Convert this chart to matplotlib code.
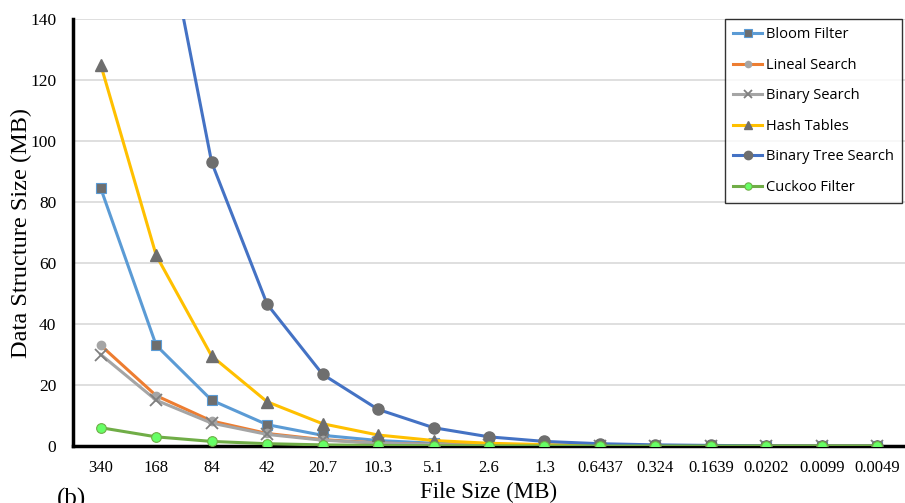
import matplotlib
matplotlib.use('Agg')
import matplotlib.pyplot as plt
import numpy as np

SERIF = 'Liberation Serif'
SANS = 'Open Sans'

file_sizes = ['340', '168', '84', '42', '20.7', '10.3', '5.1', '2.6', '1.3', '0.6437',
              '0.324', '0.1639', '0.0202', '0.0099', '0.0049']

bloom = [84.5, 33, 15, 7, 3.5, 1.8, 0.9, 0.45, 0.22, 0.11, 0.06, 0.03, 0.01, 0.005, 0.003]
lineal = [33, 16.5, 8.2, 4.1, 2.1, 1.0, 0.5, 0.25, 0.13, 0.06, 0.03, 0.015, 0.004, 0.002, 0.001]
binary = [30, 15, 7.5, 3.8, 1.9, 0.95, 0.47, 0.24, 0.12, 0.06, 0.03, 0.015, 0.004, 0.002, 0.001]
hash_tables = [125, 62.5, 29.5, 14.5, 7.3, 3.6, 1.8, 0.9, 0.45, 0.22, 0.11, 0.06, 0.01, 0.005, 0.003]
binary_tree = [372, 186, 93, 46.5, 23.5, 12, 6, 3, 1.5, 0.75, 0.37, 0.19, 0.05, 0.02, 0.01]
cuckoo = [6, 3, 1.5, 0.75, 0.37, 0.19, 0.09, 0.05, 0.02, 0.01, 0.005, 0.003, 0.001, 0.0005, 0.0002]

MARK = '#6E6E6E'

fig = plt.figure(figsize=(9.05, 5.03), dpi=100)
ax = fig.add_axes([73/905, 57/503, 832/905, 427/503])
x = np.arange(len(file_sizes))

ax.plot(x, bloom, color='#5B9BD5', lw=2.2, marker='s', ms=7, mfc=MARK, mec='#5B9BD5', mew=0.8,
        label='Bloom Filter', zorder=3)
ax.plot(x, lineal, color='#ED7D31', lw=2.2, marker='o', ms=6, mfc='#A5A5A5', mec='#A5A5A5',
        label='Lineal Search', zorder=3)
ax.plot(x, binary, color='#A5A5A5', lw=2.2, marker='x', ms=8, mec='#7F7F7F', mew=1.3,
        label='Binary Search', zorder=3)
ax.plot(x, hash_tables, color='#FFC000', lw=2.2, marker='^', ms=8, mfc=MARK, mec=MARK,
        label='Hash Tables', zorder=3)
ax.plot(x, binary_tree, color='#4472C4', lw=2.2, marker='o', ms=8, mfc=MARK, mec=MARK,
        label='Binary Tree Search', zorder=3)
ax.plot(x, cuckoo, color='#70AD47', lw=2.2, marker='o', ms=7, mfc='#66FF66', mec='#70AD47', mew=0.8,
        label='Cuckoo Filter', zorder=4)

ax.set_xlim(-0.5, len(file_sizes) - 0.5)
ax.set_ylim(0, 140)
ax.set_yticks(np.arange(0, 141, 20))
ax.set_xticks(x)
ax.set_xticklabels(file_sizes, fontsize=12, family=SERIF)
for lbl in ax.get_yticklabels():
    lbl.set_fontsize(12.5)
    lbl.set_family(SERIF)
ax.tick_params(length=0, pad=10)
ax.tick_params(axis='y', pad=12)

ax.grid(axis='y', color='#D9D9D9', lw=1.2)
ax.set_axisbelow(True)
for s in ['top', 'right']:
    ax.spines[s].set_visible(False)
ax.spines['left'].set_linewidth(2.5)
ax.spines['bottom'].set_linewidth(2.5)
ax.spines['bottom'].set_zorder(2)

ax.set_ylabel('Data Structure Size (MB)', fontsize=17.5, family=SERIF)
ax.yaxis.set_label_coords(-41/832, 0.5)
ax.set_xlabel('File Size (MB)', fontsize=16.5, family=SERIF, labelpad=4)

leg = ax.legend(loc='upper right', bbox_to_anchor=(1.0 + 1/832, 1.0 + 4/427),
                prop={'family': SANS, 'size': 10.5}, frameon=True, fancybox=False,
                edgecolor='black', handlelength=2.0, labelspacing=1.06, handletextpad=0.25,
                borderpad=0.55, markerscale=0.75, borderaxespad=0.3)
leg.get_frame().set_linewidth(1.0)

fig.text(57/905, 1 - 488/503, '(b)', fontsize=18, family=SERIF, va='top', ha='left')

fig.savefig('out.png', dpi=100)
